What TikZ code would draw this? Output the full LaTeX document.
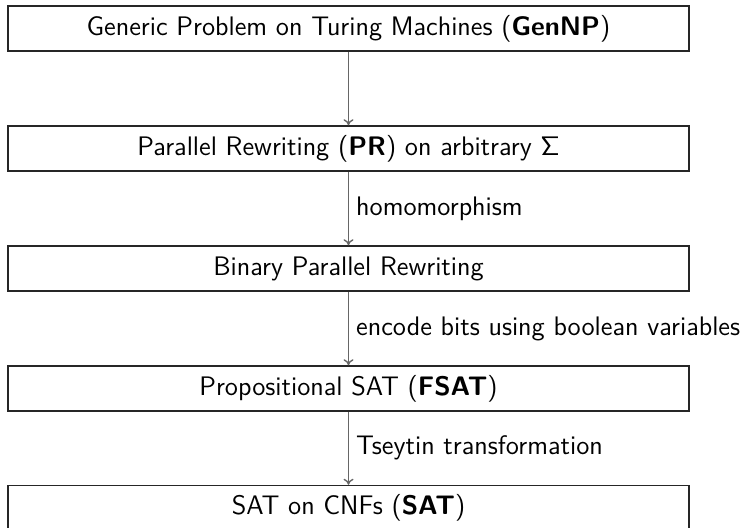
\documentclass[tikz,border=0pt]{standalone}
\usepackage{fontspec}
\usetikzlibrary{arrows.meta}
\begin{document}
\begin{tikzpicture}[x=0.5pt,y=-0.5pt,
  stage/.style={draw=black!85, line width=0.75pt, minimum width=340.5pt, minimum height=22.5pt, inner sep=0pt, font=\sffamily\fontsize{13.4}{16}\selectfont},
  flow/.style={draw=black!60, line width=0.7pt, -{To[length=3pt,width=5pt]}},
  note/.style={anchor=west, inner sep=0pt, font=\sffamily\fontsize{13.4}{16}\selectfont}]
\useasboundingbox (0,0) rectangle (744,527);
\node[stage] (b1) at (348.5,28.5) {Generic Problem on Turing Machines (\textbf{GenNP})};
\node[stage] (b2) at (348.5,148.5) {Parallel Rewriting (\textbf{PR}) on arbitrary Σ};
\node[stage] (b3) at (348.5,268.5) {Binary Parallel Rewriting};
\node[stage] (b4) at (348.5,388.5) {Propositional SAT (\textbf{FSAT})};
\node[stage] (b5) at (348.5,508) {SAT on CNFs (\textbf{SAT})};
\draw[flow] (b1) -- (b2);
\draw[flow] (b2) -- (b3) node[note, midway, xshift=3.5pt] (l1) {homomorphism};
\draw[flow] (b3) -- (b4) node[note, midway, xshift=3.5pt] (l2) {encode bits using boolean variables};
\draw[flow] (b4) -- (b5) node[note, midway, xshift=3.5pt] (l3) {Tseytin transformation};
\end{tikzpicture}
\end{document}
